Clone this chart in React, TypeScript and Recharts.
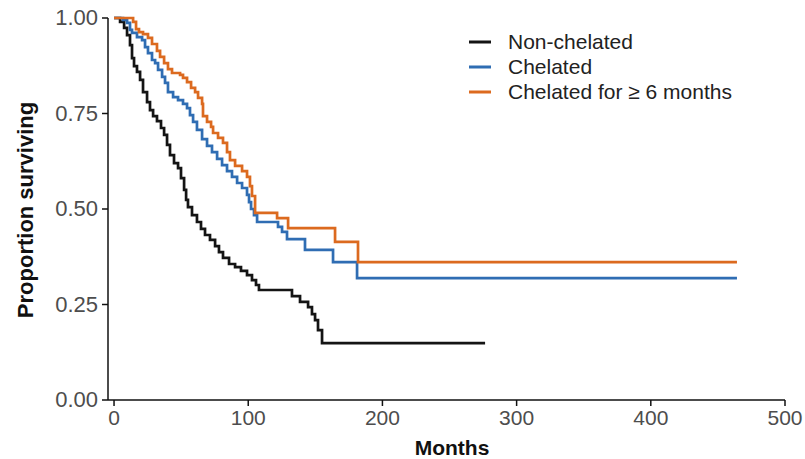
import { LineChart, Line, XAxis, YAxis } from "recharts";

// survival curves: [months, proportion surviving]
const nonChelated = [
  [0, 1], [4.5, 0.99], [7.5, 0.974], [9.7, 0.955], [11.9, 0.929], [13.4, 0.895],
  [14.9, 0.874], [17.1, 0.859], [19.4, 0.838], [21.6, 0.806], [24.6, 0.78],
  [26.8, 0.759], [29.1, 0.743], [32, 0.73], [35, 0.712], [37.3, 0.694],
  [39.5, 0.668], [41.7, 0.641], [44.7, 0.62], [47.7, 0.607], [49.9, 0.581],
  [52.2, 0.55], [53.7, 0.524], [55.1, 0.505], [58.1, 0.484], [61.8, 0.466],
  [64.8, 0.448], [67.8, 0.432], [71.5, 0.419], [75.3, 0.403], [78.2, 0.387],
  [81.2, 0.372], [85.7, 0.356], [90.2, 0.348], [94.6, 0.338], [99.1, 0.327],
  [102.8, 0.314], [105.8, 0.301], [108, 0.288], [132.6, 0.272], [138.6, 0.257],
  [144.6, 0.243], [147.5, 0.225], [149.8, 0.209], [152, 0.183], [155, 0.149],
  [276.5, 0.149],
];

const chelated = [
  [0, 1], [6.7, 0.995], [9.7, 0.987], [11.9, 0.969], [13.4, 0.961], [17.1, 0.95],
  [20.9, 0.942], [23.1, 0.924], [25.3, 0.908], [28.3, 0.89], [30.6, 0.882],
  [32.8, 0.864], [35.8, 0.846], [38, 0.83], [40.2, 0.806], [44, 0.793],
  [47.7, 0.785], [51.4, 0.775], [54.4, 0.764], [56.6, 0.746], [58.9, 0.728],
  [61.8, 0.707], [65.6, 0.683], [69.3, 0.665], [73, 0.649], [76.8, 0.631],
  [80.5, 0.615], [84.2, 0.599], [87.9, 0.584], [91.7, 0.568], [95.4, 0.555],
  [99.1, 0.537], [100.6, 0.518], [102.1, 0.5], [104.3, 0.484], [106.6, 0.466],
  [122.2, 0.453], [125.2, 0.44], [128.9, 0.421], [142.3, 0.393], [163.2, 0.361],
  [181.1, 0.319], [464.2, 0.319],
];

const chelated6m = [
  [0, 1], [14.2, 0.99], [16.4, 0.971], [18.6, 0.963], [21.6, 0.958], [25.3, 0.948],
  [28.3, 0.932], [32, 0.914], [34.3, 0.898], [37.3, 0.882], [40.2, 0.866],
  [43.2, 0.856], [49.2, 0.851], [51.4, 0.843], [54.4, 0.832], [57.4, 0.817],
  [60.4, 0.806], [62.6, 0.791], [65.6, 0.775], [66.3, 0.743], [69.3, 0.728],
  [72.3, 0.715], [73.8, 0.699], [77.5, 0.686], [81.2, 0.673], [84.2, 0.649],
  [86.4, 0.628], [90.2, 0.613], [95.4, 0.599], [99.1, 0.584], [101.3, 0.56],
  [102.8, 0.534], [105.1, 0.49], [121.5, 0.476], [129.7, 0.45], [164.7, 0.414],
  [181.8, 0.361], [464.2, 0.361],
];

const monthTicks = [0, 100, 200, 300, 400, 500];
const survTicks = [0, 0.25, 0.5, 0.75, 1];

const seriesNames = ["Non-chelated", "Chelated", "Chelated for \u2265 6 months"];
const seriesColors = ["#141414", "#2f6db3", "#dc6a1f"];

const toRows = (pts: number[][]) => pts.map(([t, s]) => ({ t, s }));
const allSeries = [nonChelated, chelated, chelated6m].map(toRows);

const FONT = "'Liberation Sans', Arial, sans-serif";

const XTick = ({ x, y, payload }: any) => (
  <text x={x} y={y} dy={17} textAnchor="middle" fill="#4d4d4d" fontSize={21} fontFamily={FONT}>
    {payload.value}
  </text>
);

const YTick = ({ x, y, payload }: any) => (
  <text x={x - 2} y={y} dy={7} textAnchor="end" fill="#4d4d4d" fontSize={22} fontFamily={FONT}>
    {payload.value.toFixed(2)}
  </text>
);

const MonthsLabel = () => (
  <text x={452} y={455} textAnchor="middle" fontSize={21} fontWeight="bold" fontFamily={FONT} fill="#111">
    Months
  </text>
);

const SurvLabel = () => (
  <text
    x={33}
    y={210}
    transform="rotate(-90 33 210)"
    textAnchor="middle"
    fontSize={22}
    fontWeight="bold"
    fontFamily={FONT}
    fill="#111"
  >
    Proportion surviving
  </text>
);

const KeyBox = () => (
  <div
    style={{
      position: "absolute",
      left: 468,
      top: 29,
      fontFamily: FONT,
      fontSize: 21,
      color: "#222",
      whiteSpace: "nowrap",
    }}
  >
    {seriesNames.map((name, i) => (
      <div key={name} style={{ display: "flex", alignItems: "center", height: 25 }}>
        <svg width={24} height={6} style={{ marginRight: 16 }}>
          <line x1={1} y1={3} x2={23} y2={3} stroke={seriesColors[i]} strokeWidth={3} />
        </svg>
        <span>{name}</span>
      </div>
    ))}
  </div>
);

export default function App() {
  return (
    <div style={{ position: "absolute", left: 0, top: 0, width: 805, height: 459, background: "#fff" }}>
      <LineChart width={805} height={459} margin={{ top: 18, right: 20, bottom: 0, left: 0 }}>
        <XAxis
          type="number"
          dataKey="t"
          domain={[-4.5, 500]}
          ticks={monthTicks}
          allowDataOverflow
          height={59}
          tickSize={6}
          tick={<XTick />}
          stroke="#111"
          strokeWidth={1.5}
          label={<MonthsLabel />}
        />
        <YAxis
          type="number"
          dataKey="s"
          domain={[0, 1]}
          ticks={survTicks}
          width={108}
          tickSize={6}
          tick={<YTick />}
          stroke="#111"
          strokeWidth={1.5}
          label={<SurvLabel />}
        />
        {allSeries.map((rows, i) => (
          <Line
            key={seriesNames[i]}
            data={rows}
            dataKey="s"
            name={seriesNames[i]}
            type="stepAfter"
            stroke={seriesColors[i]}
            strokeWidth={2.7}
            dot={false}
            activeDot={false}
            isAnimationActive={false}
          />
        ))}
      </LineChart>
      <KeyBox />
    </div>
  );
}
